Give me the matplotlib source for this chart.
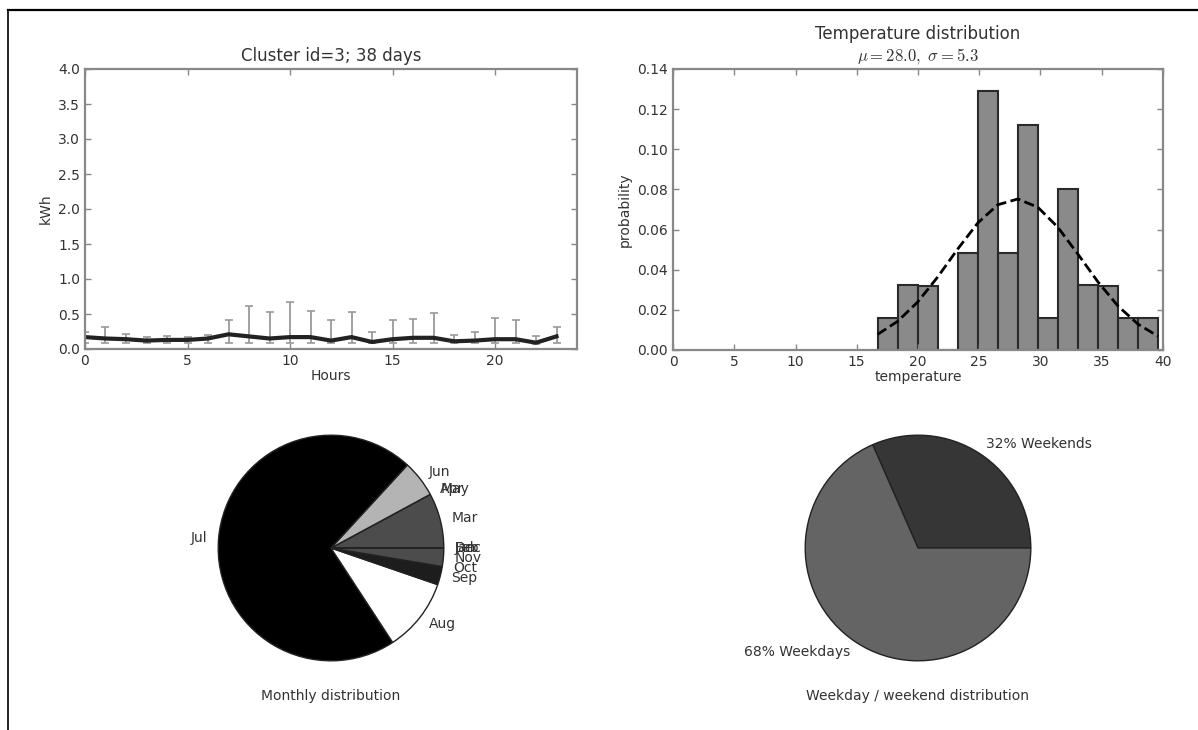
import matplotlib
matplotlib.use("Agg")
import matplotlib.pyplot as plt
import numpy as np
from matplotlib.lines import Line2D

# hourly profile (kWh)
hours = list(range(24))
kwh_mean = [0.17, 0.15, 0.14, 0.12, 0.13, 0.13, 0.15, 0.21, 0.18, 0.15, 0.17, 0.17,
            0.12, 0.17, 0.10, 0.14, 0.16, 0.16, 0.11, 0.12, 0.14, 0.14, 0.09, 0.18]
kwh_low = [0.09, 0.09, 0.09, 0.08, 0.09, 0.09, 0.09, 0.09, 0.08, 0.08, 0.08, 0.08,
           0.08, 0.09, 0.08, 0.08, 0.09, 0.09, 0.08, 0.08, 0.08, 0.08, 0.07, 0.09]
kwh_high = [0.25, 0.32, 0.22, 0.17, 0.19, 0.17, 0.20, 0.42, 0.62, 0.53, 0.67, 0.54,
            0.42, 0.53, 0.25, 0.42, 0.43, 0.51, 0.20, 0.25, 0.45, 0.42, 0.19, 0.31]

# temperature histogram (days per bin)
temp_edges = [16.7, 18.34, 19.97, 21.61, 23.24, 24.88, 26.51, 28.15,
              29.79, 31.42, 33.06, 34.69, 36.33, 37.96, 39.6]
temp_counts = [1, 2, 2, 0, 3, 8, 3, 7, 1, 5, 2, 2, 1, 1]
temp_mu = 28.0
temp_sigma = 5.3

# months
months = ['Jan', 'Feb', 'Mar', 'Apr', 'May', 'Jun', 'Jul', 'Aug', 'Sep', 'Oct', 'Nov', 'Dec']
month_days = [0, 0, 3, 0, 0, 2, 27, 4, 1, 0, 1, 0]
month_colors = ['#1d1d1d', '#4b4b4b', '#4c4c4c', '#868686', '#4f4f4f', '#b4b4b4',
                '#000000', '#ffffff', '#1d1d1d', '#4b4b4b', '#4c4c4c', '#868686']

# weekday / weekend
wk_labels = ['32% Weekends', '68% Weekdays']
wk_days = [12, 26]
wk_colors = ['#363636', '#646464']

plt.rcParams['mathtext.fontset'] = 'cm'
plt.rcParams['font.size'] = 10
plt.rcParams['text.color'] = '#333333'
plt.rcParams['axes.labelcolor'] = '#333333'
plt.rcParams['xtick.color'] = '#888888'
plt.rcParams['ytick.color'] = '#888888'
plt.rcParams['xtick.labelcolor'] = '#333333'
plt.rcParams['ytick.labelcolor'] = '#333333'


def style_axes(ax):
    for s in ax.spines.values():
        s.set_color('#888888')
        s.set_linewidth(1.6)
    ax.tick_params(direction='in', top=True, right=True, length=4, width=1, labelsize=10)


W, H = 1198, 730
fig = plt.figure(figsize=(W / 100, H / 100), dpi=100)

def rect(x0, y0, x1, y1):
    return [x0 / W, 1 - y1 / H, (x1 - x0) / W, (y1 - y0) / H]

# top left: hourly profile
ax1 = fig.add_axes(rect(85, 69, 577, 349))
m = np.array(kwh_mean)
yerr = [m - np.array(kwh_low), np.array(kwh_high) - m]
ax1.errorbar(hours, kwh_mean, yerr=yerr, color='#222222', lw=3, ecolor='#9a9a9a',
             elinewidth=1.3, capsize=3, capthick=1.2)
ax1.set_xlim(0, 24)
ax1.set_ylim(0, 4.0)
ax1.set_xticks([0, 5, 10, 15, 20])
ax1.set_yticks(np.arange(0, 4.01, 0.5))
ax1.set_title('Cluster id=3; 38 days', fontsize=12)
ax1.set_xlabel('Hours', labelpad=1)
ax1.set_ylabel('kWh')
style_axes(ax1)

# top right: temperature histogram
ax2 = fig.add_axes(rect(673, 69, 1163, 350))
edges = np.array(temp_edges)
centers = (edges[:-1] + edges[1:]) / 2
ax2.hist(centers, bins=edges, weights=temp_counts, density=True,
         facecolor='#8a8a8a', edgecolor='#2a2a2a', linewidth=1.5)
pdf = np.exp(-0.5 * ((edges - temp_mu) / temp_sigma) ** 2) / (temp_sigma * np.sqrt(2 * np.pi))
ax2.plot(edges, pdf, 'k--', lw=2)
ax2.set_xlim(0, 40)
ax2.set_ylim(0, 0.14)
ax2.set_xticks(range(0, 41, 5))
ax2.set_yticks(np.arange(0, 0.141, 0.02))
ax2.set_title('Temperature distribution\n' + r'$\mu=28.0,\ \sigma=5.3$', fontsize=12)
ax2.set_xlabel('temperature', labelpad=1)
ax2.set_ylabel('probability')
style_axes(ax2)

# bottom left: monthly pie
ax3 = fig.add_axes(rect(85, 407, 577, 689))
ax3.pie(month_days, labels=months, colors=month_colors, startangle=0,
        wedgeprops=dict(edgecolor='#222222', linewidth=1),
        textprops=dict(fontsize=10, color='#333333'))
ax3.set_aspect('equal')
ax3.set_xlabel('Monthly distribution', labelpad=0)

# bottom right: weekday pie
ax4 = fig.add_axes(rect(673, 407, 1163, 689))
ax4.pie(wk_days, labels=wk_labels, colors=wk_colors, startangle=0,
        wedgeprops=dict(edgecolor='#222222', linewidth=1),
        textprops=dict(fontsize=10, color='#333333'))
ax4.set_aspect('equal')
ax4.set_xlabel('Weekday / weekend distribution', labelpad=0)

# screenshot frame lines
fig.add_artist(Line2D([8 / W, 1], [1 - 10 / H, 1 - 10 / H], color='black', lw=1.6))
fig.add_artist(Line2D([8 / W, 8 / W], [0, 1 - 10 / H], color='black', lw=1.2))

fig.savefig('out.png', dpi=100)
